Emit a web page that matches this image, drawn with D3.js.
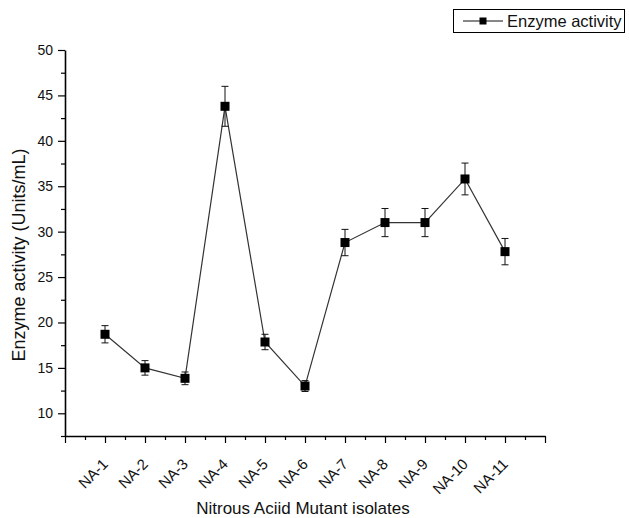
<!DOCTYPE html>
<html>
<head>
<meta charset="utf-8">
<script src="https://cdn.jsdelivr.net/npm/d3@7"></script>
<style>
  body { margin: 0; background: #fff; }
  svg { display: block; font-family: "Liberation Sans", Arial, sans-serif; }
</style>
</head>
<body>
<script>
const width = 629,
  height = 518;

// data
const isolates = ['NA-1', 'NA-2', 'NA-3', 'NA-4', 'NA-5', 'NA-6', 'NA-7', 'NA-8', 'NA-9', 'NA-10', 'NA-11'];
const activity = [18.7, 15.0, 13.85, 43.8, 17.85, 13.0, 28.8, 31.0, 31.0, 35.8, 27.8];
const activityErr = [0.95, 0.8, 0.7, 2.2, 0.85, 0.6, 1.45, 1.55, 1.55, 1.75, 1.45];
const yMajorTicks = [10, 15, 20, 25, 30, 35, 40, 45, 50];

const data = isolates.map((name, i) => ({ name: name, pos: i + 1, value: activity[i], err: activityErr[i] }));

const x = d3.scaleLinear()
  .domain([0, 12])
  .range([65, 545]);

const y = d3.scaleLinear()
  .domain([7.5, 50])
  .range([436, 50]);

const svg = d3.select('body').append('svg')
  .attr('width', width)
  .attr('height', height);

// y axis: minor ticks then major ticks with labels
svg.append('g')
  .attr('transform', `translate(${x(0)},0)`)
  .call(d3.axisLeft(y)
    .tickValues(d3.range(7.5, 50, 5))
    .tickSize(4)
    .tickFormat(''))
  .call(g => g.select('.domain').remove())
  .selectAll('line').attr('stroke-width', 1.2);

svg.append('g')
  .attr('transform', `translate(${x(0)},0)`)
  .call(d3.axisLeft(y)
    .tickValues(yMajorTicks)
    .tickSize(7)
    .tickPadding(5)
    .tickSizeOuter(0))
  .call(g => g.select('.domain').attr('stroke-width', 1.6))
  .call(g => g.selectAll('line').attr('stroke-width', 1.2))
  .call(g => g.selectAll('text')
    .attr('font-size', 14)
    .attr('font-family', '"Liberation Sans", Arial, sans-serif')
    .attr('fill', '#111'));

// x axis
svg.append('g')
  .attr('transform', `translate(0,${y(7.5)})`)
  .call(d3.axisBottom(x)
    .tickValues(d3.range(0.5, 12, 1))
    .tickSize(4)
    .tickFormat(''))
  .call(g => g.select('.domain').remove())
  .selectAll('line').attr('stroke-width', 1.2);

svg.append('g')
  .attr('transform', `translate(0,${y(7.5)})`)
  .call(d3.axisBottom(x)
    .tickValues(d3.range(0, 13, 1))
    .tickSize(7)
    .tickSizeOuter(0)
    .tickFormat(''))
  .call(g => g.select('.domain').attr('stroke-width', 1.6))
  .selectAll('line').attr('stroke-width', 1.2);

svg.append('g')
  .selectAll('text')
  .data(data)
  .enter().append('text')
  .attr('transform', d => `translate(${x(d.pos) + 4},465) rotate(-45)`)
  .attr('text-anchor', 'end')
  .attr('font-size', 15)
  .attr('fill', '#111')
  .text(d => d.name);

// axis titles
svg.append('text')
  .attr('transform', 'translate(25,255) rotate(-90)')
  .attr('text-anchor', 'middle')
  .attr('font-size', 18)
  .attr('fill', '#111')
  .text('Enzyme activity (Units/mL)');

svg.append('text')
  .attr('x', 303)
  .attr('y', 514)
  .attr('text-anchor', 'middle')
  .attr('font-size', 17)
  .attr('fill', '#111')
  .text('Nitrous Aciid Mutant isolates');

// connecting line
const line = d3.line()
  .x(d => x(d.pos))
  .y(d => y(d.value));

svg.append('path')
  .datum(data)
  .attr('fill', 'none')
  .attr('stroke', '#333')
  .attr('stroke-width', 1.2)
  .attr('d', line);

// error bars
const bars = svg.append('g')
  .attr('stroke', '#111')
  .attr('stroke-width', 1);

bars.selectAll('line.err')
  .data(data)
  .enter().append('line')
  .attr('class', 'err')
  .attr('x1', d => x(d.pos))
  .attr('x2', d => x(d.pos))
  .attr('y1', d => y(d.value - d.err))
  .attr('y2', d => y(d.value + d.err));

bars.selectAll('line.cap-top')
  .data(data)
  .enter().append('line')
  .attr('class', 'cap-top')
  .attr('x1', d => x(d.pos) - 3.5)
  .attr('x2', d => x(d.pos) + 3.5)
  .attr('y1', d => y(d.value + d.err))
  .attr('y2', d => y(d.value + d.err));

bars.selectAll('line.cap-bot')
  .data(data)
  .enter().append('line')
  .attr('class', 'cap-bot')
  .attr('x1', d => x(d.pos) - 3.5)
  .attr('x2', d => x(d.pos) + 3.5)
  .attr('y1', d => y(d.value - d.err))
  .attr('y2', d => y(d.value - d.err));

// square markers
svg.append('g')
  .selectAll('rect')
  .data(data)
  .enter().append('rect')
  .attr('x', d => x(d.pos) - 4.5)
  .attr('y', d => y(d.value) - 4.5)
  .attr('width', 9)
  .attr('height', 9)
  .attr('fill', '#000');

// legend
const legend = svg.append('g');

legend.append('rect')
  .attr('x', 453.5)
  .attr('y', 9.5)
  .attr('width', 171)
  .attr('height', 23)
  .attr('fill', '#fff')
  .attr('stroke', '#000')
  .attr('stroke-width', 1);

legend.append('line')
  .attr('x1', 463)
  .attr('x2', 503)
  .attr('y1', 21)
  .attr('y2', 21)
  .attr('stroke', '#111')
  .attr('stroke-width', 1.2);

legend.append('rect')
  .attr('x', 479.5)
  .attr('y', 17.5)
  .attr('width', 7)
  .attr('height', 7)
  .attr('fill', '#000');

legend.append('text')
  .attr('x', 507)
  .attr('y', 27)
  .attr('font-size', 16.5)
  .attr('fill', '#111')
  .text('Enzyme activity');
</script>
</body>
</html>
